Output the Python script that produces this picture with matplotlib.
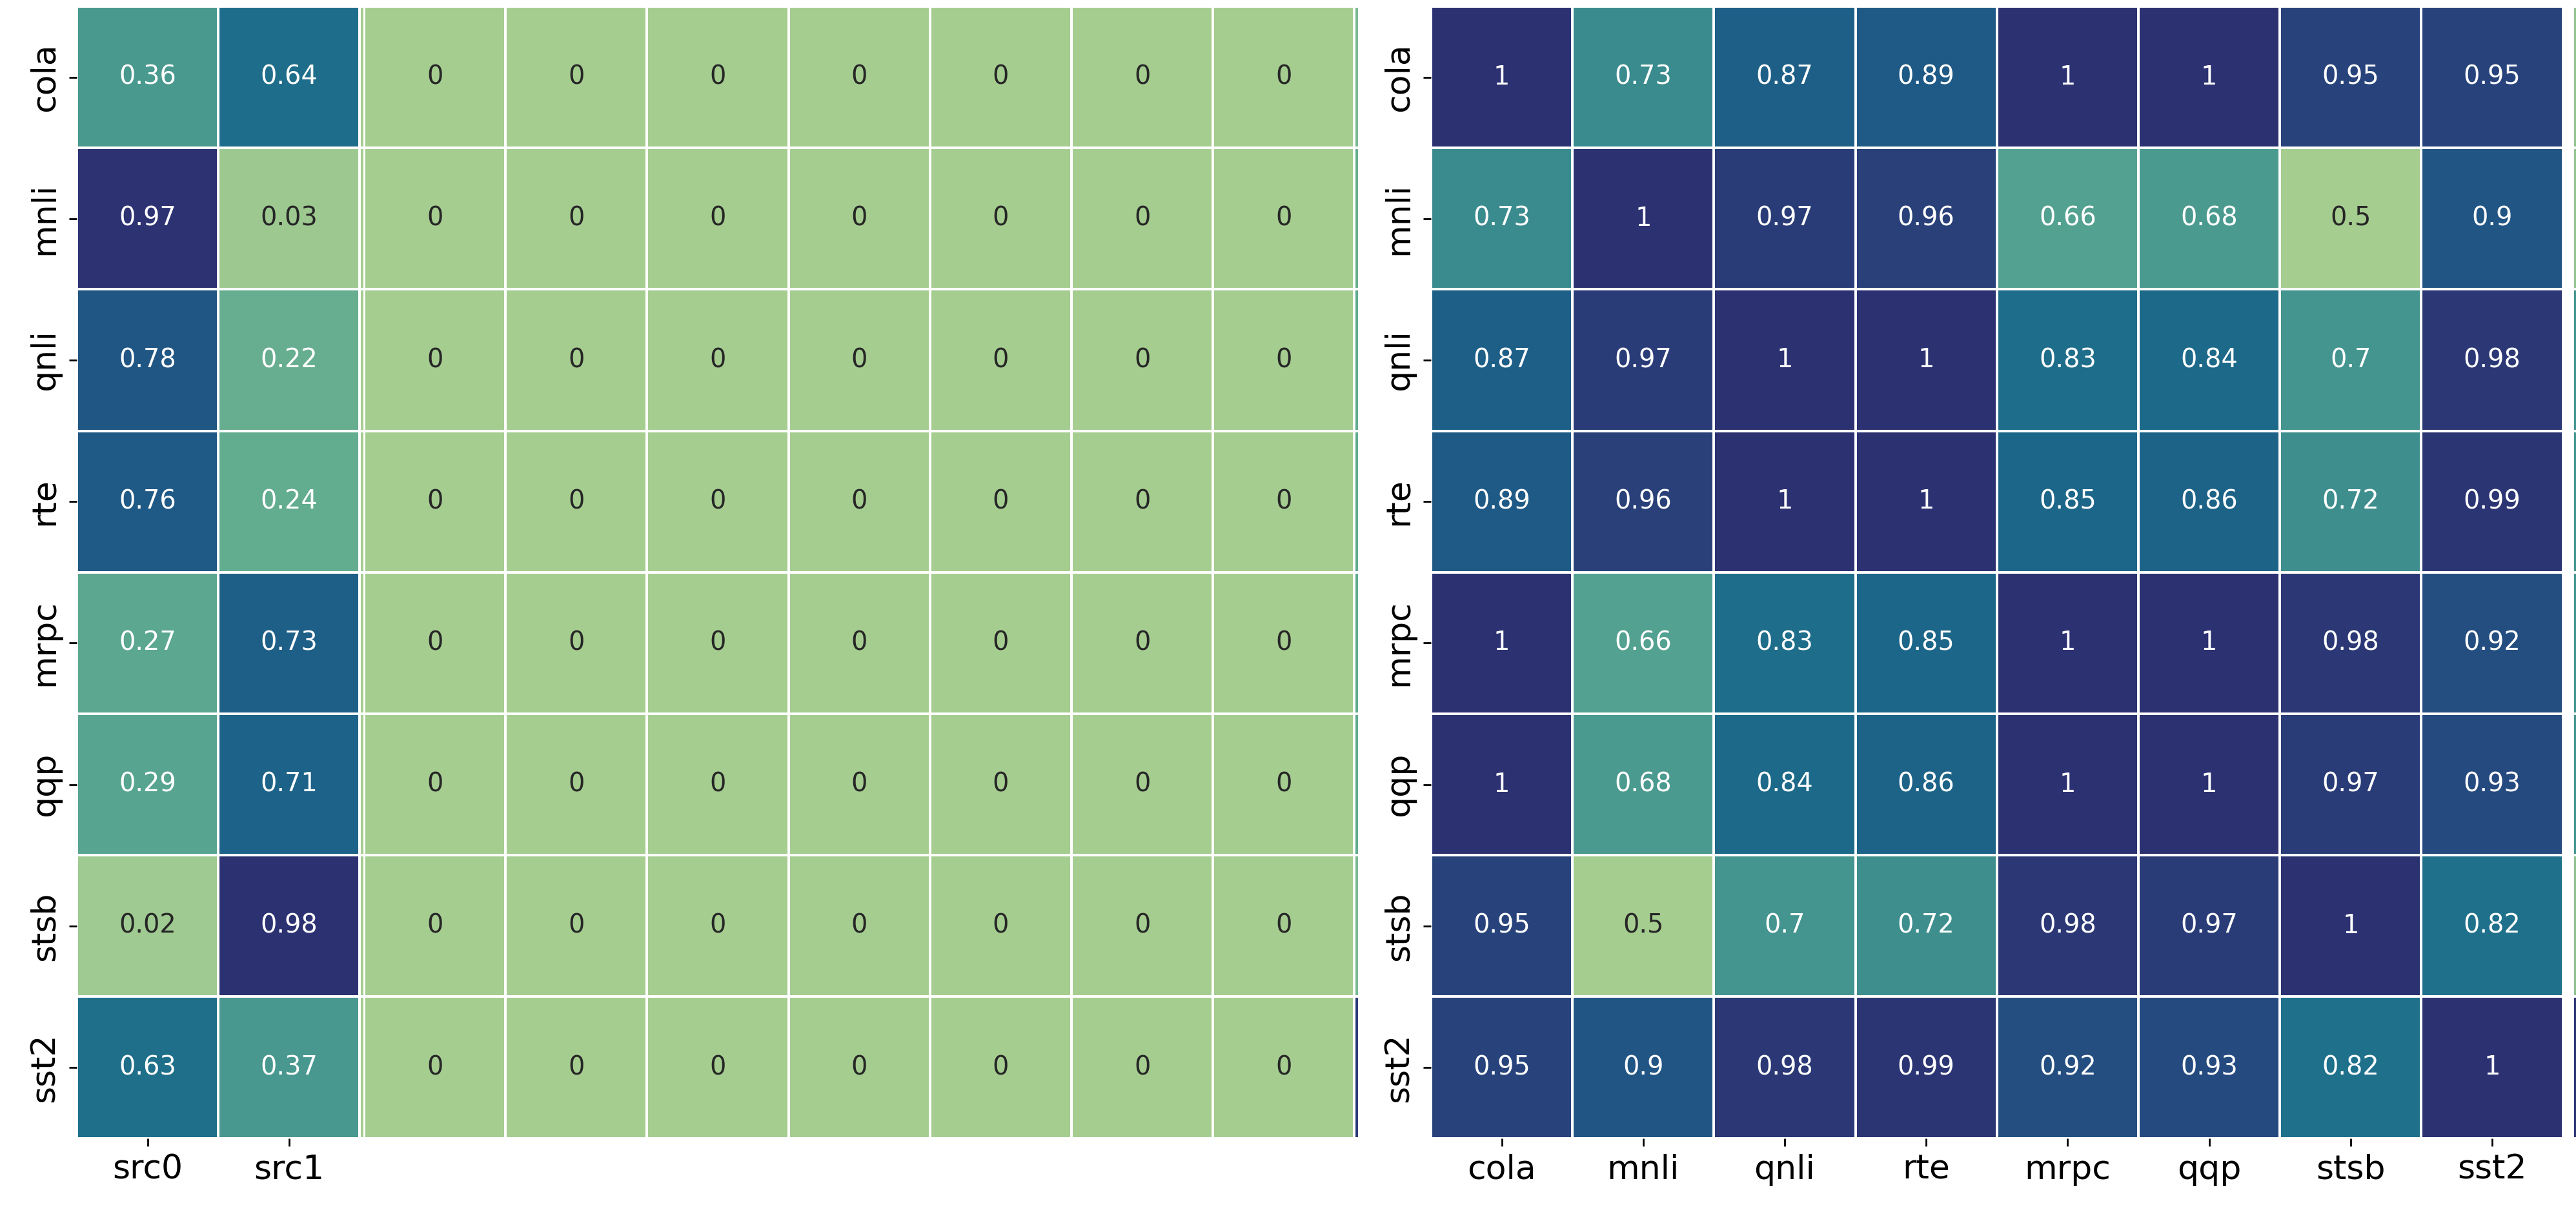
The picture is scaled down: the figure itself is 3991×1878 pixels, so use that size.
"""
Two heatmaps side by side: source mixing weights per task (left)
and task-to-task similarity (right), seaborn "crest" colours.
"""

import matplotlib
matplotlib.use("Agg")
import matplotlib.pyplot as plt
import matplotlib.colors as mcolors
import numpy as np
import seaborn as sns

# ───────────────────────────────────────────────────────────
# Data
# ───────────────────────────────────────────────────────────

tasks = ["cola", "mnli", "qnli", "rte", "mrpc", "qqp", "stsb", "sst2"]
src_labels = ["src0", "src1"]

src0 = [0.36, 0.97, 0.78, 0.76, 0.27, 0.29, 0.02, 0.63]
src1 = [0.64, 0.03, 0.22, 0.24, 0.73, 0.71, 0.98, 0.37]

# seven unlabelled source columns, all zero
unused_sources = [
    [0, 0, 0, 0, 0, 0, 0],
    [0, 0, 0, 0, 0, 0, 0],
    [0, 0, 0, 0, 0, 0, 0],
    [0, 0, 0, 0, 0, 0, 0],
    [0, 0, 0, 0, 0, 0, 0],
    [0, 0, 0, 0, 0, 0, 0],
    [0, 0, 0, 0, 0, 0, 0],
    [0, 0, 0, 0, 0, 0, 0],
]

similarity = [
    [1.00, 0.73, 0.87, 0.89, 1.00, 1.00, 0.95, 0.95],
    [0.73, 1.00, 0.97, 0.96, 0.66, 0.68, 0.50, 0.90],
    [0.87, 0.97, 1.00, 1.00, 0.83, 0.84, 0.70, 0.98],
    [0.89, 0.96, 1.00, 1.00, 0.85, 0.86, 0.72, 0.99],
    [1.00, 0.66, 0.83, 0.85, 1.00, 1.00, 0.98, 0.92],
    [1.00, 0.68, 0.84, 0.86, 1.00, 1.00, 0.97, 0.93],
    [0.95, 0.50, 0.70, 0.72, 0.98, 0.97, 1.00, 0.82],
    [0.95, 0.90, 0.98, 0.99, 0.92, 0.93, 0.82, 1.00],
]

# clipped slivers of neighbouring columns visible at panel edges
sliver_after_src1 = [0, 0, 0, 0, 0, 0, 0, 0]
sliver_left_edge = [0.15, 0.22, 0.25, 0.25, 0.25, 0.25, 0.15, 0.92]
sliver_right_edge = [0.53, 0.53, 0.70, 0.70, 0.70, 0.70, 0.54, 0.99]

# ───────────────────────────────────────────────────────────
# Layout (pixel geometry of the 3991 x 1878 output)
# ───────────────────────────────────────────────────────────

W, H, DPI = 3991, 1878, 250
CELL = 219.2
TOP = 10
LINE_W = 1.15
ANNOT_SIZE = 11.5
TICK_SIZE = 15

CMAP = sns.color_palette("crest", as_cmap=True)


def px_rect(x0, y0, w, h):
    """Pixel box (origin top-left) -> figure fraction rect."""
    return [x0 / W, 1 - (y0 + h) / H, w / W, h / H]


def text_color(rgba):
    """Same rule seaborn uses for annotation colour."""
    rgb = np.asarray(rgba)[:3]
    rgb = np.where(rgb <= 0.03928, rgb / 12.92, ((rgb + 0.055) / 1.055) ** 2.4)
    lum = rgb.dot([0.2126, 0.7152, 0.0722])
    return ".15" if lum > 0.408 else "w"


def draw_panel(ax, values, norm, n_shown, annotate=True):
    """Draw a heatmap; columns beyond n_shown are only partly visible."""
    values = np.asarray(values, dtype=float)
    n_rows, n_cols = values.shape
    ax.pcolormesh(values, cmap=CMAP, norm=norm,
                  edgecolors="white", linewidth=LINE_W)
    if annotate:
        for i in range(n_rows):
            for j in range(min(n_shown, n_cols)):
                v = values[i, j]
                ax.text(j + 0.5, i + 0.5, format(v, ".2g"),
                        ha="center", va="center", fontsize=ANNOT_SIZE,
                        color=text_color(CMAP(norm(v))))
    ax.set_ylim(n_rows, 0)
    for s in ax.spines.values():
        s.set_visible(False)
    ax.set_xticks([])
    ax.set_yticks([])


def set_row_labels(ax):
    ax.set_yticks(np.arange(len(tasks)) + 0.5)
    ax.set_yticklabels(tasks, rotation=90, va="center", fontsize=TICK_SIZE)


def set_col_labels(ax, labels):
    ax.set_xticks(np.arange(len(labels)) + 0.5)
    ax.set_xticklabels(labels, fontsize=TICK_SIZE)


def main():
    fig = plt.figure(figsize=(W / DPI, H / DPI), dpi=DPI)
    panel_h = 8 * CELL

    left_vals = np.column_stack([src0, src1, unused_sources])
    left_norm = mcolors.Normalize(vmin=left_vals.min(), vmax=left_vals.max())
    sim_vals = np.asarray(similarity)
    sim_norm = mcolors.Normalize(vmin=sim_vals.min(), vmax=sim_vals.max())

    # src0 / src1 block
    sliver_a = 0.025
    ax_a = fig.add_axes(px_rect(119, TOP, (2 + sliver_a) * CELL, panel_h))
    draw_panel(ax_a, np.column_stack([src0, src1, sliver_after_src1]),
               left_norm, n_shown=2)
    ax_a.set_xlim(0, 2 + sliver_a)
    set_row_labels(ax_a)
    set_col_labels(ax_a, src_labels)

    # unlabelled zero block
    sliver_b = 0.024
    ax_b = fig.add_axes(px_rect(564, TOP, (7 + sliver_b) * CELL, panel_h))
    draw_panel(ax_b, np.column_stack([unused_sources, sliver_left_edge]),
               left_norm, n_shown=7)
    ax_b.set_xlim(0, 7 + sliver_b)

    # task similarity
    ax_c = fig.add_axes(px_rect(2217, TOP, 8 * CELL, panel_h))
    draw_panel(ax_c, sim_vals, sim_norm, n_shown=8)
    ax_c.set_xlim(0, 8)
    set_row_labels(ax_c)
    set_col_labels(ax_c, tasks)

    # clipped strip at the right image edge
    ax_d = fig.add_axes(px_rect(3986, TOP, 0.1 * CELL, panel_h))
    draw_panel(ax_d, np.column_stack([sliver_right_edge]), sim_norm,
               n_shown=0, annotate=False)
    ax_d.set_xlim(0, 1)

    fig.savefig("out.png", dpi=DPI)
    plt.close(fig)


if __name__ == "__main__":
    main()
